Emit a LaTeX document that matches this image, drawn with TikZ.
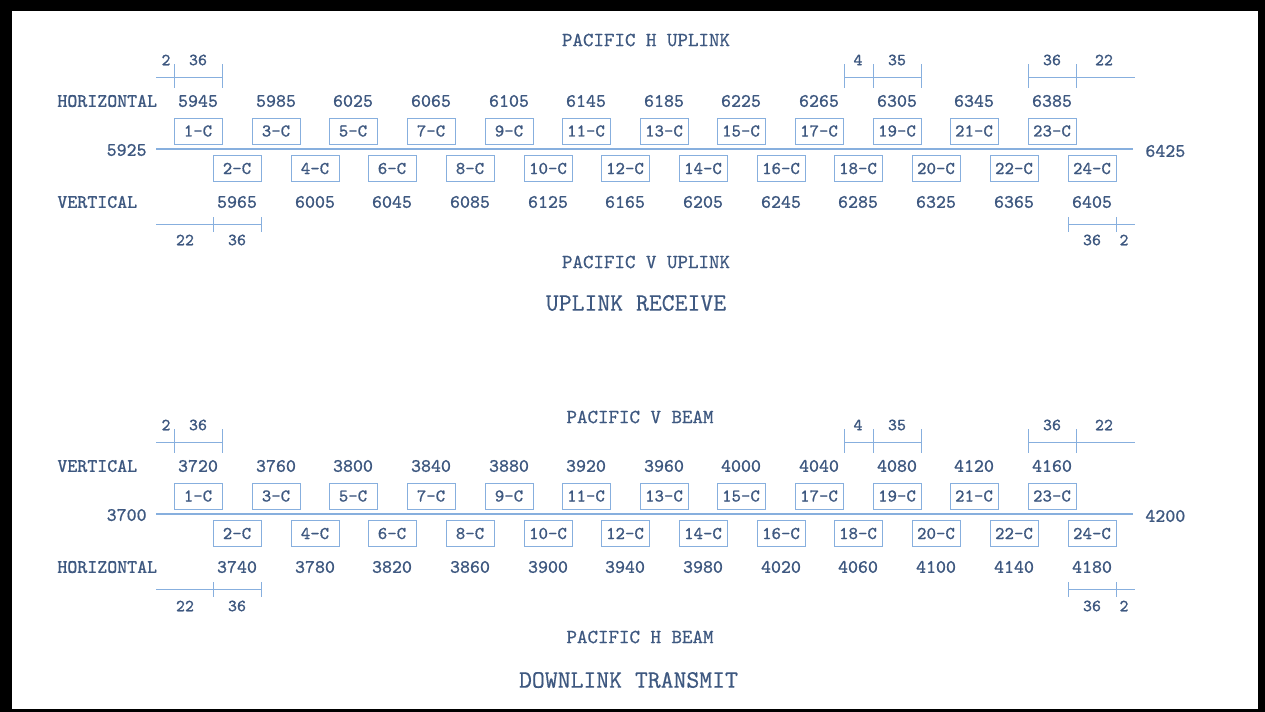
\documentclass[tikz,border=0pt]{standalone}
\usepackage{fontspec}
\newfontfamily\bandfont{Latin Modern Mono}[FakeBold=0.6]
\definecolor{bandtext}{RGB}{62,88,128}
\definecolor{bandline}{RGB}{135,175,222}
\tikzset{
  chan/.style={draw=bandline,line width=0.5pt,minimum width=24pt,minimum height=13pt,inner sep=0pt,text=bandtext,font=\bandfont\fontsize{9}{10}\selectfont},
  freq/.style={text=bandtext,inner sep=0pt,font=\bandfont\fontsize{9.5}{11}\selectfont},
  gap/.style={text=bandtext,inner sep=0pt,font=\bandfont\fontsize{8.5}{10}\selectfont},
  title/.style={text=bandtext,inner sep=0pt,font=\bandfont\fontsize{10}{12}\selectfont},
  bigtitle/.style={text=bandtext,inner sep=0pt,font=\bandfont\fontsize{12.5}{15}\selectfont},
  band/.style={draw=bandline,line width=0.8pt},
  dim/.style={draw=bandline,line width=0.5pt}
}

\begin{document}
\begin{tikzpicture}[x=0.5pt,y=-0.5pt]
\fill[black] (0,0) rectangle (1265,712);
\fill[white] (12,11) rectangle (1258,709);

% uplink receive
\node[title] (uhtitle) at (646,40) {PACIFIC H UPLINK};
\node[title] (uvtitle) at (646,262) {PACIFIC V UPLINK};
\node[bigtitle] (utitle) at (636,303) {UPLINK RECEIVE};
\node[freq,anchor=west] (uhpol) at (57,101) {HORIZONTAL};
\node[freq,anchor=west] (uvpol) at (57,202) {VERTICAL};
\node[freq,anchor=east] (ulo) at (147,150) {5925};
\node[freq,anchor=west] (uhi) at (1145,151) {6425};
\coordinate (ua) at (156,149);
\coordinate (ub) at (1133,149);
\draw[band] (ua) -- (ub);

\node[chan] (u1) at (198,131) {1-C};
\node[chan] (u3) at (276,131) {3-C};
\node[chan] (u5) at (353,131) {5-C};
\node[chan] (u7) at (431,131) {7-C};
\node[chan] (u9) at (509,131) {9-C};
\node[chan] (u11) at (586,131) {11-C};
\node[chan] (u13) at (664,131) {13-C};
\node[chan] (u15) at (741,131) {15-C};
\node[chan] (u17) at (819,131) {17-C};
\node[chan] (u19) at (897,131) {19-C};
\node[chan] (u21) at (974,131) {21-C};
\node[chan] (u23) at (1052,131) {23-C};
\node[chan] (u2) at (237,168.5) {2-C};
\node[chan] (u4) at (315,168.5) {4-C};
\node[chan] (u6) at (392,168.5) {6-C};
\node[chan] (u8) at (470,168.5) {8-C};
\node[chan] (u10) at (548,168.5) {10-C};
\node[chan] (u12) at (625,168.5) {12-C};
\node[chan] (u14) at (703,168.5) {14-C};
\node[chan] (u16) at (781,168.5) {16-C};
\node[chan] (u18) at (858,168.5) {18-C};
\node[chan] (u20) at (936,168.5) {20-C};
\node[chan] (u22) at (1014,168.5) {22-C};
\node[chan] (u24) at (1092,168.5) {24-C};

\node[freq] (uf1) at (198,101) {5945};
\node[freq] (uf3) at (276,101) {5985};
\node[freq] (uf5) at (353,101) {6025};
\node[freq] (uf7) at (431,101) {6065};
\node[freq] (uf9) at (509,101) {6105};
\node[freq] (uf11) at (586,101) {6145};
\node[freq] (uf13) at (664,101) {6185};
\node[freq] (uf15) at (741,101) {6225};
\node[freq] (uf17) at (819,101) {6265};
\node[freq] (uf19) at (897,101) {6305};
\node[freq] (uf21) at (974,101) {6345};
\node[freq] (uf23) at (1052,101) {6385};
\node[freq] (uf2) at (237,202) {5965};
\node[freq] (uf4) at (315,202) {6005};
\node[freq] (uf6) at (392,202) {6045};
\node[freq] (uf8) at (470,202) {6085};
\node[freq] (uf10) at (548,202) {6125};
\node[freq] (uf12) at (625,202) {6165};
\node[freq] (uf14) at (703,202) {6205};
\node[freq] (uf16) at (781,202) {6245};
\node[freq] (uf18) at (858,202) {6285};
\node[freq] (uf20) at (936,202) {6325};
\node[freq] (uf22) at (1014,202) {6365};
\node[freq] (uf24) at (1092,202) {6405};

\draw[dim] (156,77) -- (222,77);
\draw[dim] (174,64) -- (174,88);
\draw[dim] (222,64) -- (222,88);
\node[gap] (ug1) at (166,60) {2};
\node[gap] (ug2) at (198,60) {36};
\draw[dim] (844,77) -- (921,77);
\draw[dim] (844,64) -- (844,88);
\draw[dim] (873,64) -- (873,88);
\draw[dim] (921,64) -- (921,88);
\node[gap] (ug3) at (858,60) {4};
\node[gap] (ug4) at (897,60) {35};
\draw[dim] (1028,77) -- (1135,77);
\draw[dim] (1028,64) -- (1028,88);
\draw[dim] (1076,64) -- (1076,88);
\node[gap] (ug5) at (1052,60) {36};
\node[gap] (ug6) at (1104,60) {22};
\draw[dim] (156,224) -- (261,224);
\draw[dim] (213,217) -- (213,232);
\draw[dim] (261,217) -- (261,232);
\node[gap] (ug7) at (185,240) {22};
\node[gap] (ug8) at (237,240) {36};
\draw[dim] (1068,224) -- (1135,224);
\draw[dim] (1068,217) -- (1068,232);
\draw[dim] (1116,217) -- (1116,232);
\node[gap] (ug9) at (1092,240) {36};
\node[gap] (ug10) at (1124,240) {2};

% downlink transmit
\node[title] (dvtitle) at (640,417) {PACIFIC V BEAM};
\node[title] (dhtitle) at (640,637) {PACIFIC H BEAM};
\node[bigtitle] (dtitle) at (628.5,680) {DOWNLINK TRANSMIT};
\node[freq,anchor=west] (dvpol) at (57,466) {VERTICAL};
\node[freq,anchor=west] (dhpol) at (57,567) {HORIZONTAL};
\node[freq,anchor=east] (dlo) at (147,515) {3700};
\node[freq,anchor=west] (dhi) at (1145,516) {4200};
\coordinate (da) at (156,514);
\coordinate (db) at (1133,514);
\draw[band] (da) -- (db);

\node[chan] (d1) at (198,496) {1-C};
\node[chan] (d3) at (276,496) {3-C};
\node[chan] (d5) at (353,496) {5-C};
\node[chan] (d7) at (431,496) {7-C};
\node[chan] (d9) at (509,496) {9-C};
\node[chan] (d11) at (586,496) {11-C};
\node[chan] (d13) at (664,496) {13-C};
\node[chan] (d15) at (741,496) {15-C};
\node[chan] (d17) at (819,496) {17-C};
\node[chan] (d19) at (897,496) {19-C};
\node[chan] (d21) at (974,496) {21-C};
\node[chan] (d23) at (1052,496) {23-C};
\node[chan] (d2) at (237,533.5) {2-C};
\node[chan] (d4) at (315,533.5) {4-C};
\node[chan] (d6) at (392,533.5) {6-C};
\node[chan] (d8) at (470,533.5) {8-C};
\node[chan] (d10) at (548,533.5) {10-C};
\node[chan] (d12) at (625,533.5) {12-C};
\node[chan] (d14) at (703,533.5) {14-C};
\node[chan] (d16) at (781,533.5) {16-C};
\node[chan] (d18) at (858,533.5) {18-C};
\node[chan] (d20) at (936,533.5) {20-C};
\node[chan] (d22) at (1014,533.5) {22-C};
\node[chan] (d24) at (1092,533.5) {24-C};

\node[freq] (df1) at (198,466) {3720};
\node[freq] (df3) at (276,466) {3760};
\node[freq] (df5) at (353,466) {3800};
\node[freq] (df7) at (431,466) {3840};
\node[freq] (df9) at (509,466) {3880};
\node[freq] (df11) at (586,466) {3920};
\node[freq] (df13) at (664,466) {3960};
\node[freq] (df15) at (741,466) {4000};
\node[freq] (df17) at (819,466) {4040};
\node[freq] (df19) at (897,466) {4080};
\node[freq] (df21) at (974,466) {4120};
\node[freq] (df23) at (1052,466) {4160};
\node[freq] (df2) at (237,567) {3740};
\node[freq] (df4) at (315,567) {3780};
\node[freq] (df6) at (392,567) {3820};
\node[freq] (df8) at (470,567) {3860};
\node[freq] (df10) at (548,567) {3900};
\node[freq] (df12) at (625,567) {3940};
\node[freq] (df14) at (703,567) {3980};
\node[freq] (df16) at (781,567) {4020};
\node[freq] (df18) at (858,567) {4060};
\node[freq] (df20) at (936,567) {4100};
\node[freq] (df22) at (1014,567) {4140};
\node[freq] (df24) at (1092,567) {4180};

\draw[dim] (156,442) -- (222,442);
\draw[dim] (174,429) -- (174,453);
\draw[dim] (222,429) -- (222,453);
\node[gap] (dg1) at (166,425) {2};
\node[gap] (dg2) at (198,425) {36};
\draw[dim] (844,442) -- (921,442);
\draw[dim] (844,429) -- (844,453);
\draw[dim] (873,429) -- (873,453);
\draw[dim] (921,429) -- (921,453);
\node[gap] (dg3) at (858,425) {4};
\node[gap] (dg4) at (897,425) {35};
\draw[dim] (1028,442) -- (1135,442);
\draw[dim] (1028,429) -- (1028,453);
\draw[dim] (1076,429) -- (1076,453);
\node[gap] (dg5) at (1052,425) {36};
\node[gap] (dg6) at (1104,425) {22};
\draw[dim] (156,589) -- (261,589);
\draw[dim] (213,582) -- (213,597);
\draw[dim] (261,582) -- (261,597);
\node[gap] (dg7) at (185,606) {22};
\node[gap] (dg8) at (237,606) {36};
\draw[dim] (1068,589) -- (1135,589);
\draw[dim] (1068,582) -- (1068,597);
\draw[dim] (1116,582) -- (1116,597);
\node[gap] (dg9) at (1092,606) {36};
\node[gap] (dg10) at (1124,606) {2};

\end{tikzpicture}
\end{document}
